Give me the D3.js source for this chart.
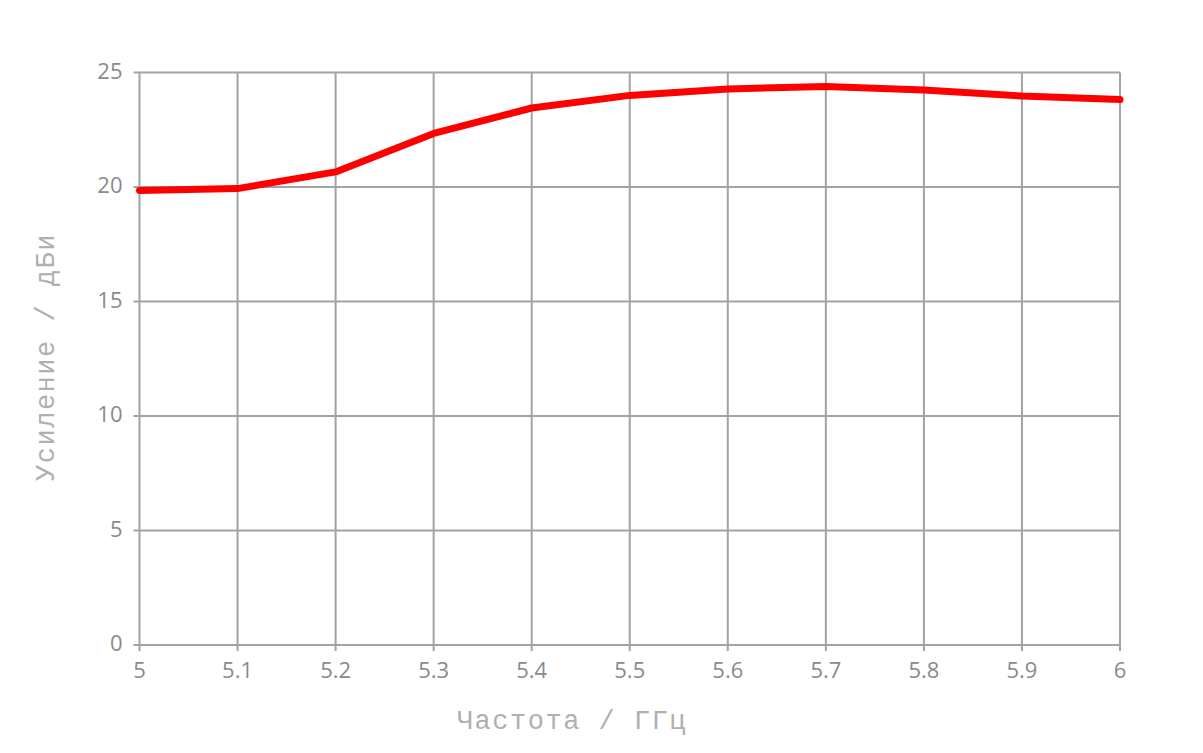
<!DOCTYPE html>
<html><head><meta charset="utf-8">
<script src="https://cdn.jsdelivr.net/npm/d3@7"></script>
<style>body{margin:0;background:#fff;}svg{display:block;}</style>
</head><body>
<svg id="c" width="1203" height="753"></svg>
<script>
const freqs = [5.0, 5.1, 5.2, 5.3, 5.4, 5.5, 5.6, 5.7, 5.8, 5.9, 6.0];
const gain = [19.85, 19.93, 20.66, 22.34, 23.45, 24.0, 24.28, 24.39, 24.24, 23.97, 23.82];
const xTicks = [5, 5.1, 5.2, 5.3, 5.4, 5.5, 5.6, 5.7, 5.8, 5.9, 6];
const yTicks = [0, 5, 10, 15, 20, 25];
const xTitle = "Частота / ГГц";
const yTitle = "Усиление / дБи";

const svg = d3.select("#c");
const L = 139.5, R = 1120, T = 72.5, B = 645;
const x = d3.scaleLinear().domain([5, 6]).range([L, R]);
const y = d3.scaleLinear().domain([0, 25]).range([B, T]);
const gridColor = "#a3a3a3";

// grid
svg.append("g").selectAll("line").data(xTicks).join("line")
  .attr("x1", d => x(d)).attr("x2", d => x(d)).attr("y1", T).attr("y2", B + 6)
  .attr("stroke", gridColor).attr("stroke-width", 2);
svg.append("g").selectAll("line").data(yTicks).join("line")
  .attr("x1", L - 6).attr("x2", R).attr("y1", d => y(d)).attr("y2", d => y(d))
  .attr("stroke", gridColor).attr("stroke-width", 2);

// tick labels
svg.append("g").selectAll("text").data(yTicks).join("text")
  .attr("x", L - 17).attr("y", d => y(d) + 6)
  .attr("text-anchor", "end")
  .attr("font-family", "'Open Sans', sans-serif").attr("font-size", 22)
  .attr("fill", "#8a8a8a").text(d => d);
svg.append("g").selectAll("text").data(xTicks).join("text")
  .attr("x", d => x(d)).attr("y", B + 33)
  .attr("text-anchor", "middle")
  .attr("font-family", "'Open Sans', sans-serif").attr("font-size", 22)
  .attr("fill", "#8a8a8a").text(d => d);

// line
const line = d3.line().x((d, i) => x(freqs[i])).y(d => y(d));
svg.append("path").datum(gain).attr("d", line)
  .attr("fill", "none").attr("stroke", "#ff0000").attr("stroke-width", 7)
  .attr("stroke-linejoin", "round").attr("stroke-linecap", "round");

// titles
svg.append("text").attr("x", 572).attr("y", 729)
  .attr("text-anchor", "middle")
  .attr("font-family", "'Liberation Mono', 'Courier New', monospace").attr("font-size", 27)
  .attr("letter-spacing", 1.5)
  .attr("fill", "#b0b0b0").text(xTitle);
svg.append("text").attr("transform", "translate(54,357) rotate(-90)")
  .attr("text-anchor", "middle")
  .attr("font-family", "'Liberation Mono', 'Courier New', monospace").attr("font-size", 27)
  .attr("letter-spacing", 1.5)
  .attr("fill", "#b0b0b0").text(yTitle);
</script>
</body></html>
